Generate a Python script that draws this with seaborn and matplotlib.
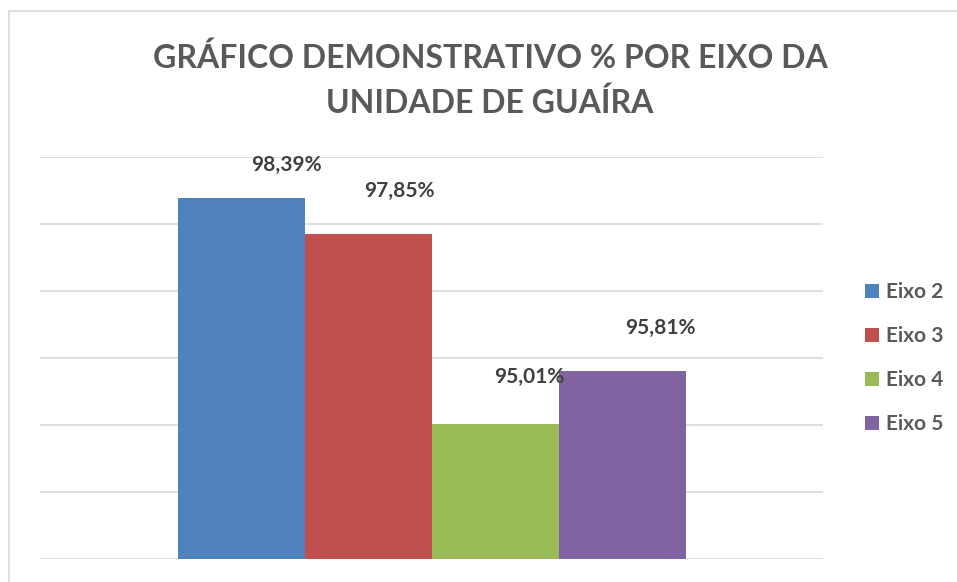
import matplotlib
matplotlib.use("Agg")
import matplotlib.pyplot as plt
from matplotlib.patches import Rectangle
import seaborn as sns
import pandas as pd

#####################################
# data
#####################################
eixos = ["Eixo 2", "Eixo 3", "Eixo 4", "Eixo 5"]
valores = [98.39, 97.85, 95.01, 95.81]
rotulos = ["98,39%", "97,85%", "95,01%", "95,81%"]
cores = ["#4F81BD", "#C0504D", "#9BBB59", "#8064A2"]
titulo = "GRÁFICO DEMONSTRATIVO % POR EIXO DA\nUNIDADE DE GUAÍRA"

# label offsets (points) as placed in the original chart
dx = [32, 22, 24, 27]
dy = [24, 31, 34, 31]

df = pd.DataFrame({"eixo": eixos, "valor": valores})

sns.set_theme(style="white")
plt.rcParams["font.family"] = ["Lato", "DejaVu Sans"]

fig = plt.figure(figsize=(9.57, 5.82), dpi=100)
ax = fig.add_axes([40 / 957, 1 - 559 / 582, 783 / 957, 402 / 582])

sns.barplot(data=df, x="eixo", y="valor", hue="eixo",
            palette=dict(zip(eixos, cores)), width=1.0,
            saturation=1, linewidth=0, legend=True, ax=ax)

ax.set_ylim(93, 99)
ax.set_xlim(-1.587, 4.578)
ax.set_yticks(range(93, 100))
ax.yaxis.grid(True, color="#d9d9d9", linewidth=1.2)
ax.set_axisbelow(True)
ax.tick_params(length=0, labelleft=False, labelbottom=False)
ax.set_xlabel("")
ax.set_ylabel("")
sns.despine(ax=ax, left=True, bottom=True)

# data labels
for i, (v, txt) in enumerate(zip(valores, rotulos)):
    ax.annotate(txt, (i, v), xytext=(dx[i], dy[i]), textcoords="offset points",
                ha="center", va="center", fontsize=15, fontweight="bold",
                color="#404040")

# legend on the right
sns.move_legend(ax, "center left", bbox_to_anchor=(855 / 957, 1 - 358 / 582),
                bbox_transform=fig.transFigure, frameon=False, title=None,
                fontsize=15, handlelength=0.65, handleheight=0.65,
                handletextpad=0.35, labelspacing=1.15, borderpad=0)
for t in ax.get_legend().get_texts():
    t.set_color("#595959")
    t.set_fontweight("bold")

# title
fig.text(490 / 957, 1 - 80 / 582, titulo, ha="center", va="center",
         fontsize=23, fontweight="bold", color="#595959", linespacing=1.55)

# chart area border
fig.add_artist(Rectangle((9 / 957, -0.1), 1.2, 1.1 - 11 / 582,
                         transform=fig.transFigure, fill=False,
                         edgecolor="#d9d9d9", linewidth=1.2))

fig.savefig("out.png", dpi=100)
